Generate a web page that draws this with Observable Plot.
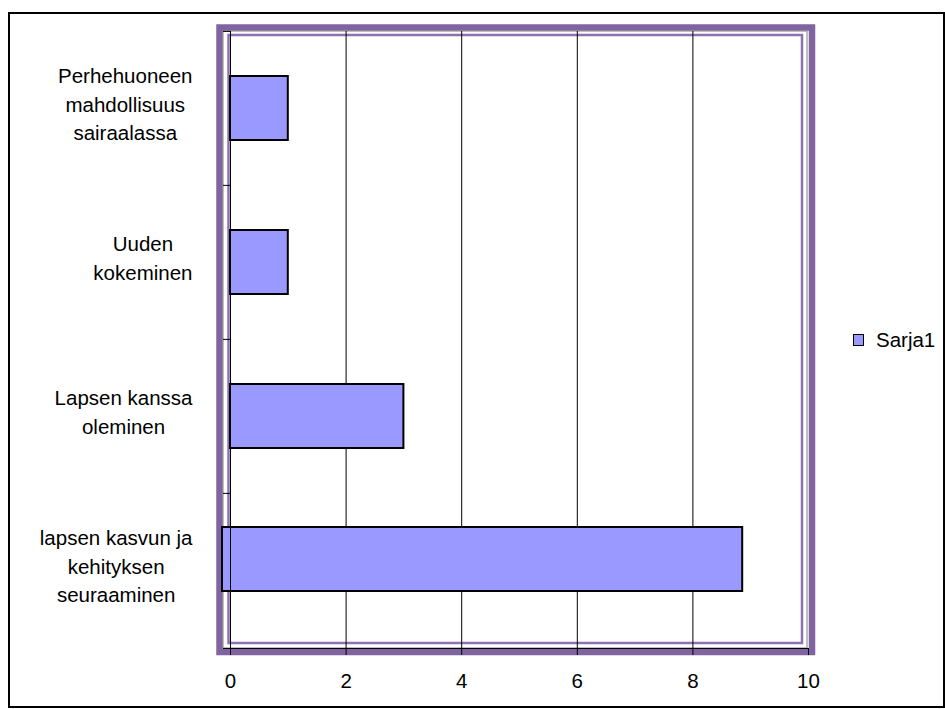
<!DOCTYPE html>
<html>
<head>
<meta charset="utf-8">
<script src="https://cdn.jsdelivr.net/npm/d3@7"></script>
<script src="https://cdn.jsdelivr.net/npm/@observablehq/plot@0.6"></script>
<style>
  body { margin: 0; background: #fff; }
  #chart { position: relative; width: 945px; height: 709px; overflow: hidden;
           font-family: "Liberation Sans", Arial, sans-serif; }
  #chart svg { position: absolute; left: 0; top: 0; }
  #border { position: absolute; left: 8px; top: 12px; width: 937px; height: 696px;
            box-sizing: border-box; border: 2px solid #000; pointer-events: none; }
  #legend-swatch { position: absolute; left: 853px; top: 334px; width: 11px; height: 12px;
                   box-sizing: border-box; background: #9999ff; border: 1px solid #000; }
  #legend-text { position: absolute; left: 876px; top: 329.5px; font-size: 20.5px;
                 line-height: 20.5px; color: #000; white-space: nowrap; }
</style>
</head>
<body>
<div id="chart">
  <div id="border"></div>
  <div id="legend-swatch"></div>
  <div id="legend-text"></div>
</div>
<script>
// Categories, top to bottom, with their wrapped label lines
const categories = [
  "Perhehuoneen\nmahdollisuus\nsairaalassa",
  "Uuden\nkokeminen",
  "Lapsen kanssa\noleminen",
  "lapsen kasvun ja\nkehityksen\nseuraaminen"
];
const values = [1, 1, 3, 9];
const xTicks = [0, 2, 4, 6, 8, 10];
const gridTicks = [2, 4, 6, 8];
const seriesName = "Sarja1";

const rows = categories.map((category, i) => ({category, value: values[i]}));

const W = 945, H = 709;
const mL = 230, mR = 137, mT = 31, mB = 61;
const step = (H - mT - mB) / categories.length;
const fontSize = 20.5;
const fontFamily = '"Liberation Sans", Arial, sans-serif';

// Measure each wrapped label so its lines can be centred on one another
const ctx = document.createElement("canvas").getContext("2d");
ctx.font = `${fontSize}px ${fontFamily}`;
const blockWidth = c => Math.max(...c.split("\n").map(s => ctx.measureText(s).width));
const labelGap = 38;

const barFill = "#9999ff";
const last = categories[categories.length - 1];

const plot = Plot.plot({
  width: W,
  height: H,
  marginLeft: mL,
  marginRight: mR,
  marginTop: mT,
  marginBottom: mB,
  style: {fontFamily, fontSize: `${fontSize}px`, color: "#000", background: "transparent"},
  x: {domain: [0, 10], axis: null},
  y: {domain: categories, paddingInner: 0.583, paddingOuter: 0.2915, axis: null},
  marks: [
    // plot-area border: thick purple band, grey edge, thin inner purple line
    Plot.frame({stroke: "#8064a2", strokeWidth: 6.5, insetLeft: -11, insetTop: -4, insetRight: -3.5, insetBottom: -3.5}),
    Plot.frame({stroke: "#7f7f7f", strokeWidth: 1, insetLeft: -7.5, insetTop: -0.5, insetRight: 1.5, insetBottom: 0.5}),
    Plot.frame({stroke: "#8d72b2", strokeWidth: 2.5, insetLeft: -2, insetTop: 3.5, insetRight: 6.5, insetBottom: 5.5}),
    // vertical gridlines
    Plot.ruleX(gridTicks, {stroke: "#000", strokeWidth: 1}),
    // bars
    Plot.barX(rows.filter(d => d.category !== last), {
      x: "value", y: "category", fill: barFill, stroke: "#000", strokeWidth: 2
    }),
    Plot.barX(rows.filter(d => d.category === last), {
      x: "value", y: "category", fill: barFill, stroke: "#000", strokeWidth: 2, dx: -8, dy: -11
    }),
    // axis lines
    Plot.ruleX([0], {stroke: "#000", strokeWidth: 1, insetBottom: -7}),
    Plot.frame({anchor: "bottom", stroke: "#000", strokeWidth: 1, insetLeft: -7}),
    // category tick marks at band boundaries
    Plot.ruleY(categories, {y: d => d, x1: 0, x2: 0, insetLeft: -7, dy: -step / 2, stroke: "#000", strokeWidth: 1}),
    // value axis
    Plot.axisX(xTicks, {tickSize: 7, tickPadding: 17.5, fontSize, fill: "#000", stroke: "#000", label: null}),
    // category labels
    ...categories.map(c => Plot.text([c], {
      y: d => d,
      text: d => d,
      frameAnchor: "left",
      textAnchor: "middle",
      lineAnchor: "middle",
      lineHeight: 1.38,
      fontSize,
      fill: "#000",
      dx: -(labelGap + blockWidth(c) / 2),
      dy: -6
    }))
  ]
});

document.getElementById("chart").prepend(plot);
document.getElementById("legend-text").textContent = seriesName;
</script>
</body>
</html>
